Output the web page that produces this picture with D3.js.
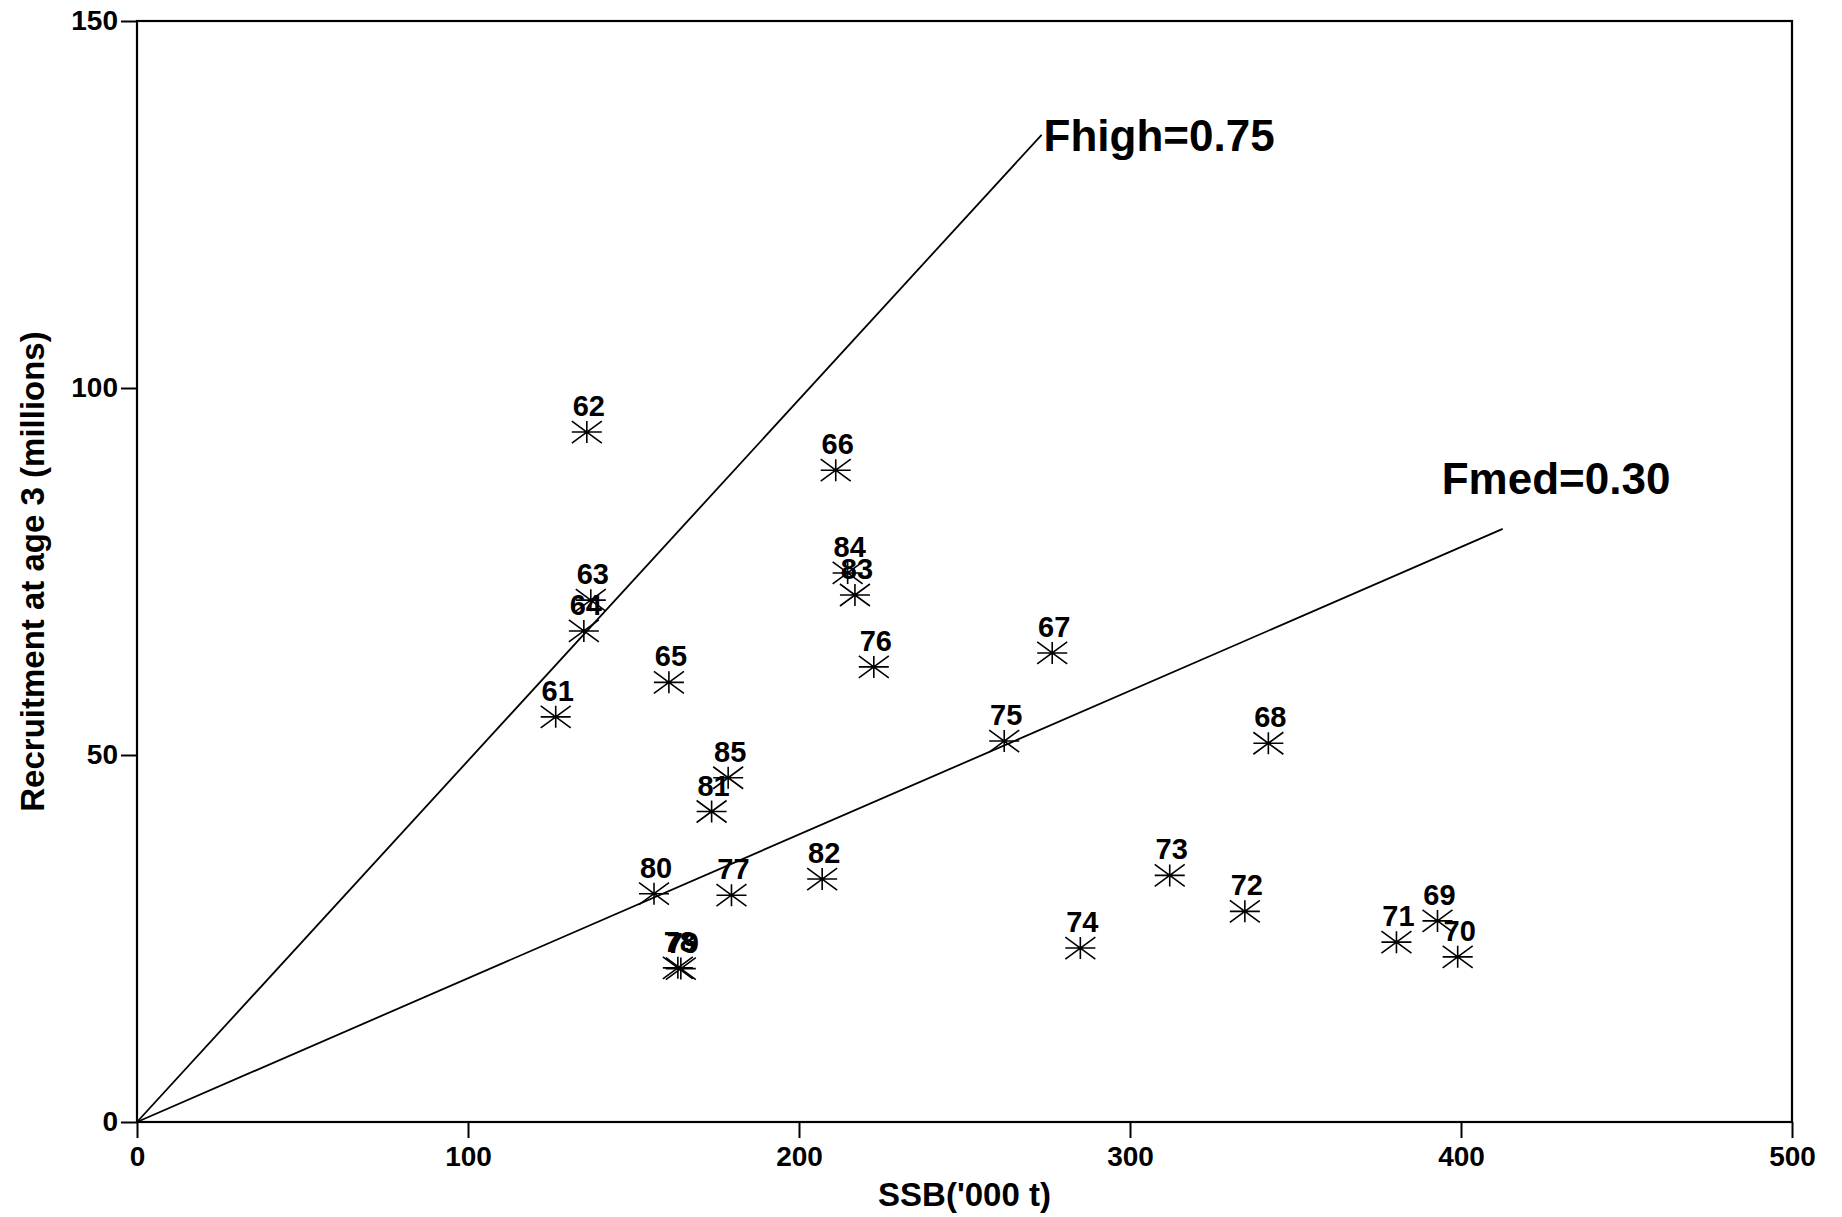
<!DOCTYPE html>
<html>
<head>
<meta charset="utf-8">
<script src="https://cdn.jsdelivr.net/npm/d3@7"></script>
<style>
  html, body { margin: 0; padding: 0; background: #fff; }
  svg { display: block; }
  text { font-family: "Liberation Sans", Arial, Helvetica, sans-serif; font-weight: bold; fill: #000; }
</style>
</head>
<body>
<svg id="chart" width="1842" height="1217"></svg>
<script>
// Year class labels (19xx), spawning stock biomass ('000 t) and recruits at age 3 (millions)
const years = ["61","62","63","64","65","66","67","68","69","70","71","72","73","74","75","76","77","78","79","80","81","82","83","84","85"];
const ssb = [126.5, 135.9, 137.1, 135.0, 160.7, 211.1, 276.5, 341.8, 392.9, 399.0, 380.5, 334.7, 312.0, 285.0, 262.0, 222.6, 179.6, 163.4, 164.3, 156.2, 173.6, 207.0, 216.9, 214.7, 178.6];
const recruits = [55.2, 94.0, 71.1, 66.9, 59.9, 88.8, 63.9, 51.6, 27.4, 22.5, 24.5, 28.7, 33.6, 23.7, 51.9, 62.0, 30.9, 21.0, 20.9, 31.1, 42.3, 33.1, 71.8, 74.8, 46.9];

// Replacement lines through the origin
const refLines = ["Fhigh=0.75", "Fmed=0.30"];
const refEndSSB = [273.3, 412.6];
const refEndRec = [134.5, 80.8];

const xTicks = [0, 100, 200, 300, 400, 500];
const yTicks = [0, 50, 100, 150];

const svg = d3.select("#chart");
const mLeft = 137, mRight = 1792, mTop = 21, mBottom = 1122;

const x = d3.scaleLinear().domain([0, 500]).range([mLeft, mRight]);
const y = d3.scaleLinear().domain([0, 150]).range([mBottom, mTop]);

// Plot frame
svg.append("rect")
  .attr("x", mLeft).attr("y", mTop)
  .attr("width", mRight - mLeft).attr("height", mBottom - mTop)
  .attr("fill", "none").attr("stroke", "#000").attr("stroke-width", 2.2);

// Axes
const xAxis = d3.axisBottom(x).tickValues(xTicks).tickFormat(d3.format("d")).tickSize(16).tickPadding(8);
const yAxis = d3.axisLeft(y).tickValues(yTicks).tickFormat(d3.format("d")).tickSize(16).tickPadding(3);

const gx = svg.append("g").attr("transform", `translate(0,${mBottom})`).call(xAxis);
const gy = svg.append("g").attr("transform", `translate(${mLeft},0)`).call(yAxis);
[gx, gy].forEach(g => {
  g.select(".domain").remove();
  g.selectAll(".tick line").attr("stroke", "#000").attr("stroke-width", 2);
  g.selectAll(".tick text")
    .attr("font-family", "'Liberation Sans', Arial, sans-serif")
    .attr("font-weight", "bold")
    .attr("font-size", 28)
    .attr("fill", "#000");
});

// Axis titles
svg.append("text")
  .attr("x", (mLeft + mRight) / 2).attr("y", 1206)
  .attr("text-anchor", "middle").attr("font-size", 33)
  .text("SSB('000 t)");

svg.append("text")
  .attr("transform", `translate(44,${(mTop + mBottom) / 2}) rotate(-90)`)
  .attr("text-anchor", "middle").attr("font-size", 33)
  .text("Recruitment at age 3 (millions)");

// Reference lines and their labels
const refData = refLines.map((name, i) => ({ name, sx: refEndSSB[i], ry: refEndRec[i] }));
svg.append("g").selectAll("line").data(refData).join("line")
  .attr("x1", x(0)).attr("y1", y(0))
  .attr("x2", d => x(d.sx)).attr("y2", d => y(d.ry))
  .attr("stroke", "#000").attr("stroke-width", 1.8);

svg.append("g").selectAll("text").data(refData).join("text")
  .attr("x", (d, i) => i === 0 ? x(d.sx) + 2 : x(d.sx) - 61)
  .attr("y", (d, i) => i === 0 ? y(d.ry) + 16 : y(d.ry) - 35)
  .attr("font-size", 44)
  .text(d => d.name);

// Stock-recruitment points drawn as asterisks
const pts = years.map((yr, i) => ({ yr, s: ssb[i], r: recruits[i] }));
const hx = 15, hy = 11;
const star = `M${-hx},0L${hx},0M0,${-hy}L0,${hy}M${-hx},${-hy}L${hx},${hy}M${-hx},${hy}L${hx},${-hy}`;

const gp = svg.append("g");
gp.selectAll("path").data(pts).join("path")
  .attr("transform", d => `translate(${x(d.s)},${y(d.r)})`)
  .attr("d", star)
  .attr("fill", "none").attr("stroke", "#000").attr("stroke-width", 1.6);

gp.selectAll("text").data(pts).join("text")
  .attr("x", d => x(d.s) + 2)
  .attr("y", d => y(d.r) - 16)
  .attr("text-anchor", "middle")
  .attr("font-size", 29)
  .text(d => d.yr);
</script>
</body>
</html>
